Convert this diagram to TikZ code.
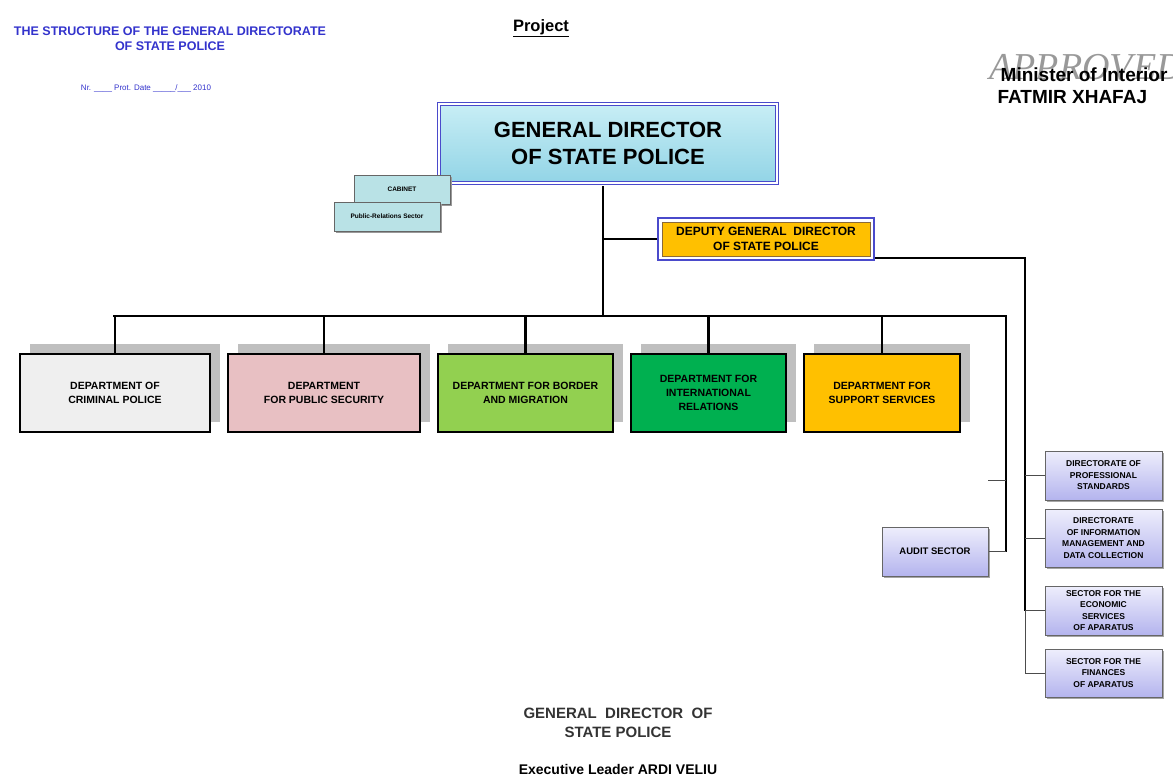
\documentclass[tikz,border=0pt]{standalone}
\usepackage{fontspec}
\setmainfont{Liberation Sans}
\newfontfamily\stampfont{Liberation Serif}
\usepackage{tikz}
\usetikzlibrary{shadows}
\usetikzlibrary{positioning,fit,calc}
\definecolor{titleblue}{HTML}{3333CC}
\definecolor{gdblue}{HTML}{4A4ACB}
\definecolor{gdtop}{HTML}{C8EEF5}
\definecolor{gdbot}{HTML}{92D4E6}
\definecolor{cabfill}{HTML}{B9E2E6}
\definecolor{gold}{HTML}{FFC000}
\definecolor{goldedge}{HTML}{8A6A3A}
\definecolor{deptgray}{HTML}{EFEFEF}
\definecolor{deptpink}{HTML}{E8C0C3}
\definecolor{deptlime}{HTML}{92D050}
\definecolor{deptgreen}{HTML}{00B050}
\definecolor{lavtop}{HTML}{EEEEFC}
\definecolor{lavbot}{HTML}{B4B4EE}
\tikzstyle{gdbox}=[draw=gdblue,line width=1.2pt,double=white,double distance=1.5pt,top color=gdtop,bottom color=gdbot,align=center,font=\bfseries\fontsize{22}{27}\selectfont]
\tikzstyle{cabbox}=[draw=black!60,line width=0.8pt,fill=cabfill,font=\bfseries\fontsize{6.5}{8}\selectfont,drop shadow={shadow xshift=1.5pt,shadow yshift=-1.5pt,fill=black!40,opacity=1}]
\tikzstyle{deputybox}=[fill=gold,draw=goldedge,line width=0.9pt,align=center,font=\bfseries\fontsize{12}{15}\selectfont]
\tikzstyle{deptbox}=[draw=black,line width=2.2pt,align=center,inner sep=2pt,font=\bfseries\fontsize{10.5}{14}\selectfont,drop shadow={shadow xshift=10pt,shadow yshift=10pt,fill=black!25,opacity=1}]
\tikzstyle{sidebox}=[draw=black!60,line width=1pt,top color=lavtop,bottom color=lavbot,align=center,inner sep=1pt,font=\bfseries\fontsize{8.5}{11.5}\selectfont,drop shadow={shadow xshift=1.5pt,shadow yshift=-1.5pt,fill=black!35,opacity=1}]
\tikzstyle{edge}=[draw,black,line width=2.4pt]
\tikzstyle{thinedge}=[draw,black!70,line width=1pt]

\begin{document}
\begin{tikzpicture}[x=1pt,y=-1pt]
    \useasboundingbox (0,0) rectangle (1173,776);
    % Header texts
    \node[text=titleblue,align=center,font=\bfseries\fontsize{12.5}{15}\selectfont] (title) at (170,39) {THE STRUCTURE OF THE GENERAL DIRECTORATE\\OF STATE POLICE};
    \node[text=titleblue,font=\fontsize{8}{9}\selectfont] (protocol) at (146,88) {Nr. \_\_\_\_ Prot. Date \_\_\_\_\_/\_\_\_ 2010};
    \node[font=\bfseries\fontsize{16.5}{18}\selectfont] (project) at (541,28) {\underline{Project}};
    \node[anchor=base west,text=black!40,font=\stampfont\itshape\fontsize{38}{38}\selectfont] (stamp) at (986,80) {APPROVED};
    \node[anchor=west,align=left,font=\bfseries\fontsize{19}{22}\selectfont] (minister) at (994,86) {\,Minister of Interior\\FATMIR XHAFAJ};

    % Top of the tree
    \node[gdbox,minimum width=338,minimum height=79] (gd) at (608,143.5) {GENERAL DIRECTOR\\OF STATE POLICE};
    \node[cabbox,minimum width=96,minimum height=29] (cab) at (402,189.5) {CABINET};
    \node[cabbox,minimum width=106,minimum height=29] (prs) at (387,216.5) {Public-Relations Sector};
    \node[deputybox,minimum width=208,minimum height=34] (dep) at (766,239) {DEPUTY GENERAL \ DIRECTOR\\OF STATE POLICE};
    \node[fit=(dep),inner sep=3.5pt,draw=gdblue,line width=1.6pt] (depframe) {};

    % Departments
    \foreach \pos/\bw/\name/\col/\txt in {{(115,393)/190/d1/deptgray/{DEPARTMENT OF\\CRIMINAL POLICE}},
        {(324,393)/192/d2/deptpink/{DEPARTMENT\\FOR PUBLIC SECURITY}},
        {(525.5,393)/175/d3/deptlime/{DEPARTMENT FOR BORDER\\AND MIGRATION}},
        {(708.5,393)/155/d4/deptgreen/{DEPARTMENT FOR\\INTERNATIONAL\\RELATIONS}},
        {(882,393)/156/d5/gold/{DEPARTMENT FOR\\SUPPORT SERVICES}}}
        \node[deptbox,fill=\col,minimum width=\bw,minimum height=78] (\name) at \pos {\txt};

    % Side units
    \node[sidebox,minimum width=106,minimum height=49,font=\bfseries\fontsize{9.5}{12}\selectfont] (audit) at (935,551.5) {AUDIT SECTOR};
    \foreach \pos/\bh/\name/\txt in {{(1103.5,475.5)/49/r1/{DIRECTORATE OF\\PROFESSIONAL\\STANDARDS}},
        {(1103.5,538)/58/r2/{DIRECTORATE\\OF INFORMATION\\MANAGEMENT AND\\DATA COLLECTION}},
        {(1103.5,610.5)/49/r3/{SECTOR FOR THE\\ECONOMIC\\SERVICES\\OF APARATUS}},
        {(1103.5,673)/48/r4/{SECTOR FOR THE\\FINANCES\\OF APARATUS}}}
        \node[sidebox,minimum width=117,minimum height=\bh] (\name) at \pos {\txt};

    % Bottom signature
    \node[align=center,text=black!80,font=\bfseries\fontsize{15}{19}\selectfont] (sign) at (618,723) {GENERAL \ DIRECTOR \ OF\\STATE POLICE};
    \node[anchor=base,font=\bfseries\fontsize{14}{16}\selectfont] (leader) at (618,774) {Executive Leader ARDI VELIU};

    % Connectors
    \coordinate (trunk) at (603,186);
    \coordinate (busL) at (113,316);
    \coordinate (busR) at (1006,316);
    \coordinate (rtop) at (1025,258);
    \coordinate (stub) at (988,480);
    \path[edge] (trunk) -- (trunk |- busL);
    \path[edge] (trunk |- depframe.west) -- (depframe.west);
    \path[edge] (busL) -- (busR) -- (busR |- audit.east);
    \path[thinedge] (busR |- audit.east) -- (audit.east);
    \foreach \name in {d1,d2,d3,d4,d5}
        \path[edge] (\name.north) -- (\name.north |- busL);
    \path[edge] (rtop -| depframe.east) -- (rtop) -- (rtop |- r3.west);
    \path[thinedge] (rtop |- r3.west) -- (rtop |- r4.west) -- (r4.west);
    \foreach \name in {r1,r2,r3}
        \path[thinedge] (rtop |- \name.west) -- (\name.west);
    \path[thinedge] (stub) -- (stub -| busR);
\end{tikzpicture}
\end{document}
